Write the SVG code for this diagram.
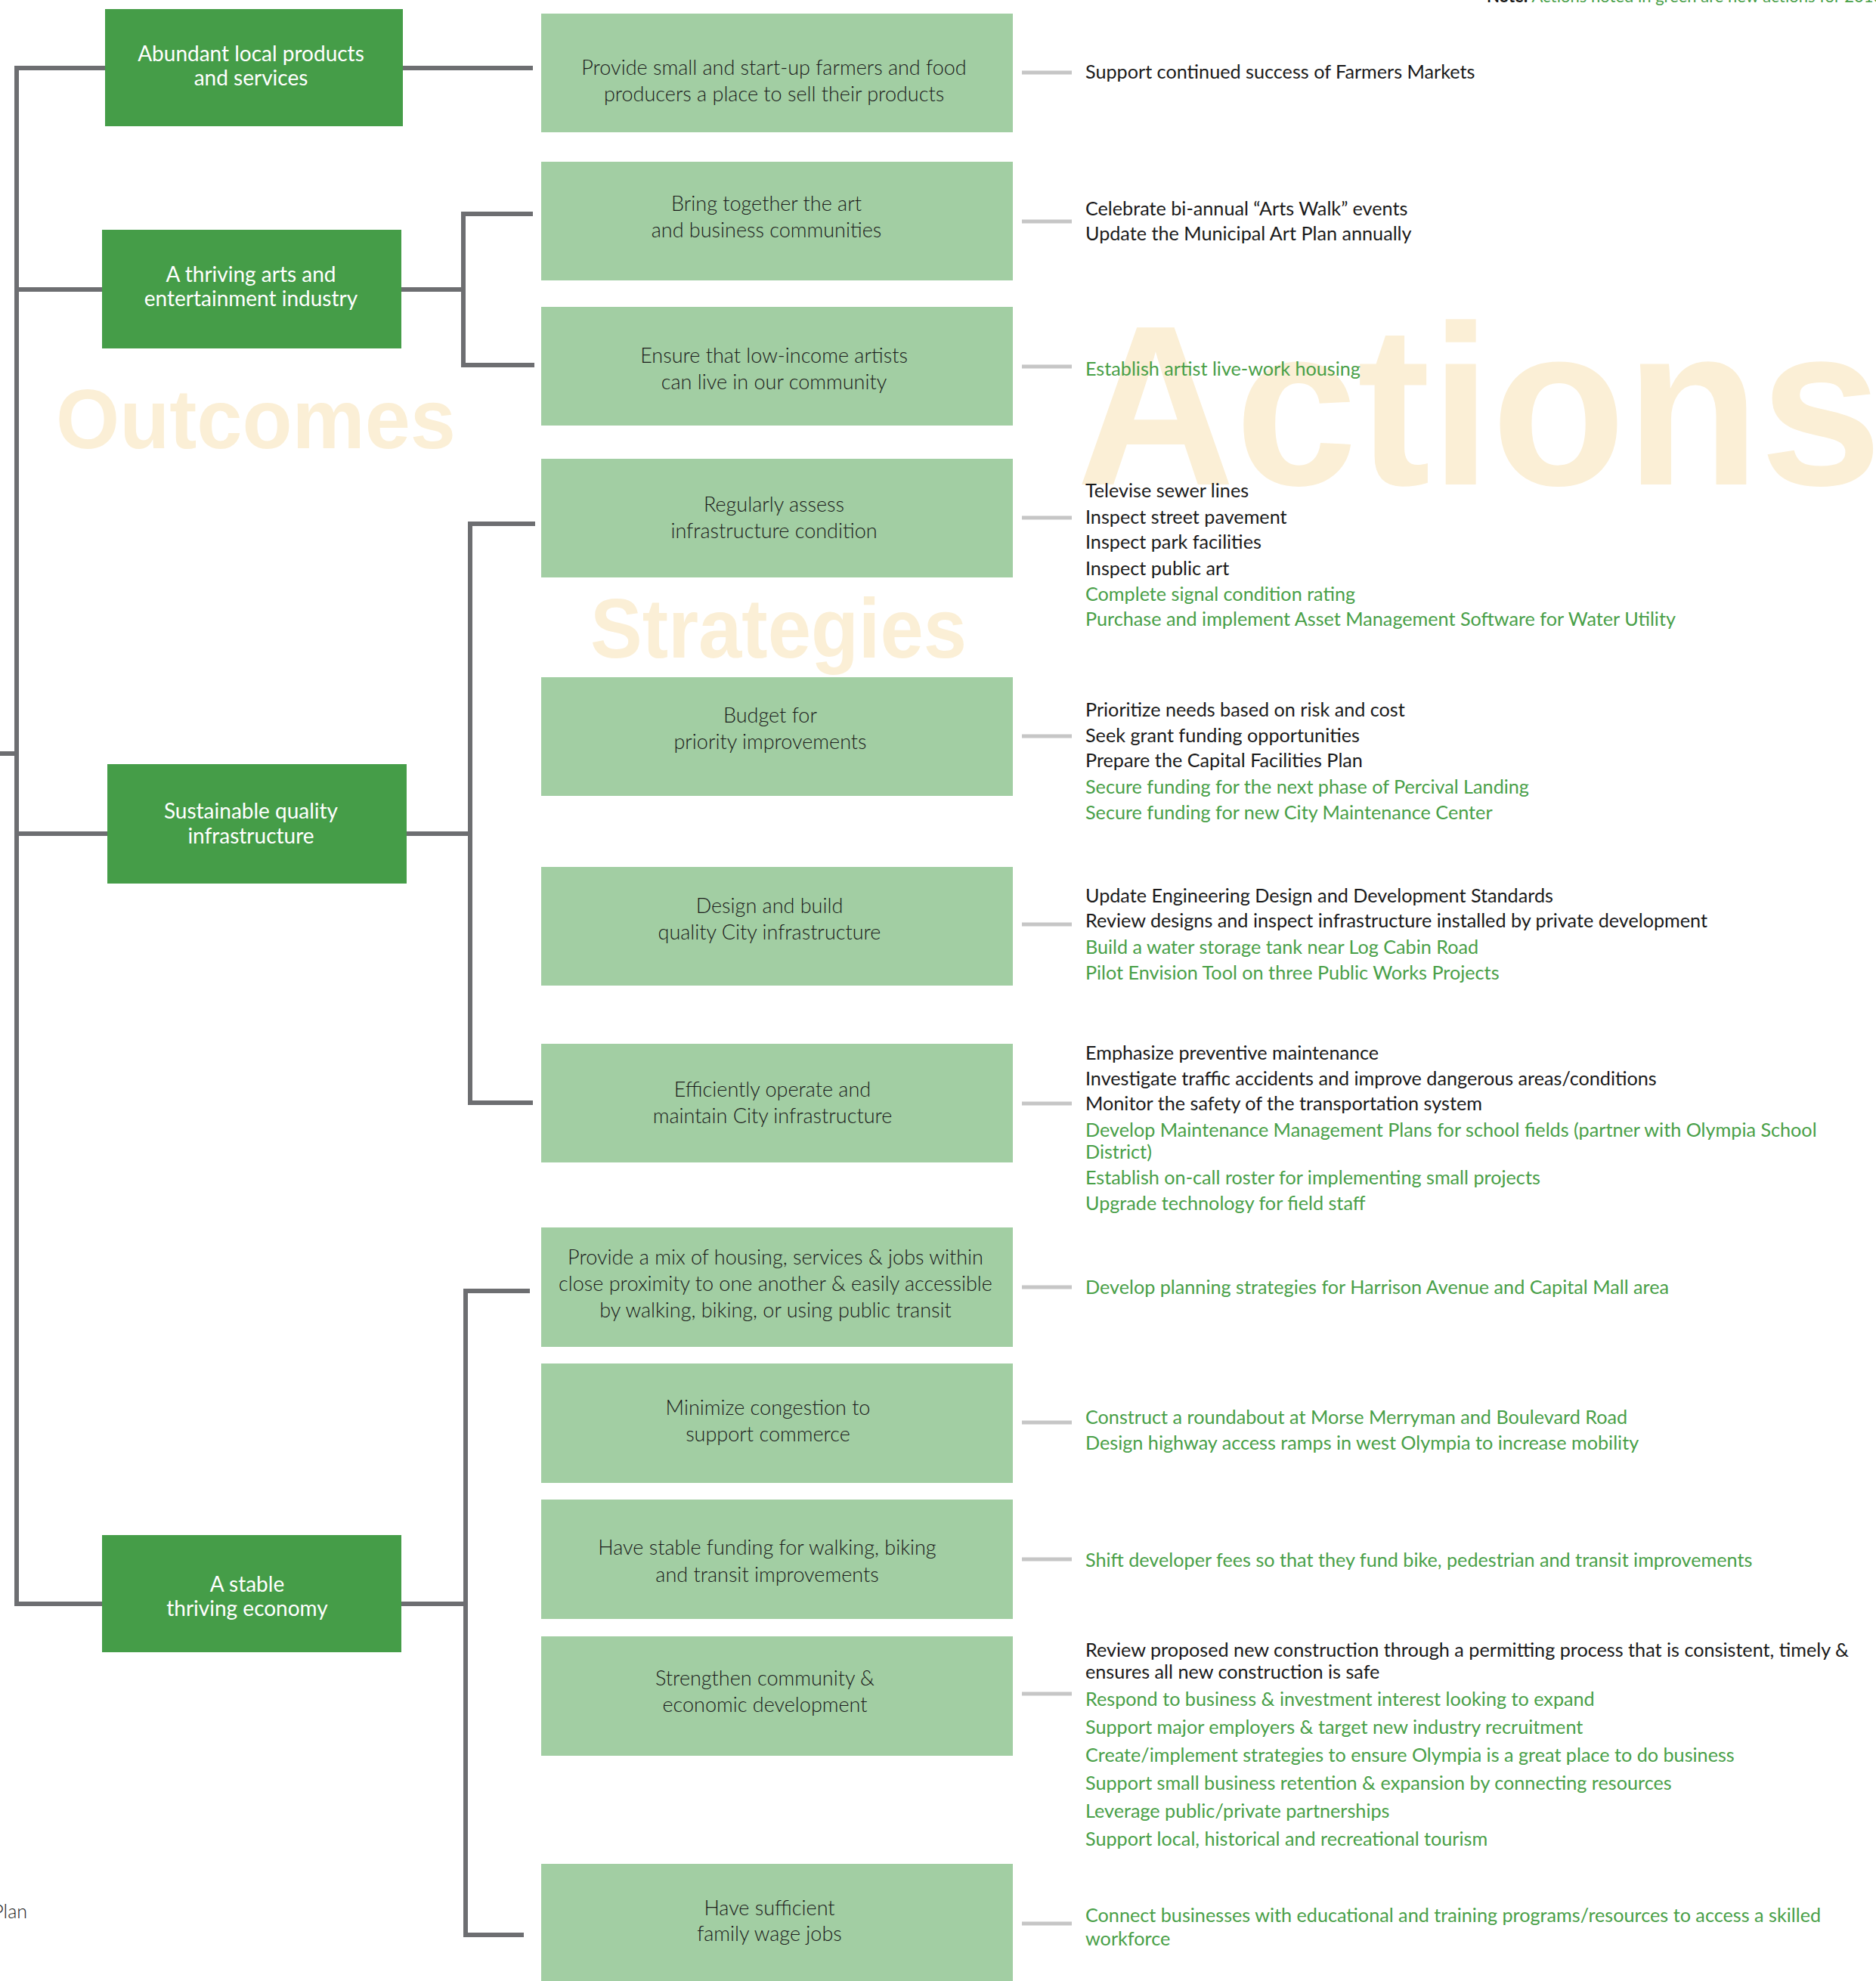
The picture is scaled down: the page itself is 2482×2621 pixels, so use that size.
<svg xmlns="http://www.w3.org/2000/svg" width="2482" height="2621" viewBox="0 0 2482 2621">
<style>
.wm{font-family:"Liberation Sans",Arial,sans-serif;font-weight:bold;fill:#fbefd6}
.oc{fill:#459d48}
.st{fill:#a2cea3}
.ot{font-family:Lato,"Open Sans",sans-serif;font-size:28px;fill:#ffffff;text-anchor:middle}
.stt{font-family:Lato,"Open Sans",sans-serif;font-weight:300;font-size:27px;fill:#1a1a1a;text-anchor:middle}
.at{font-family:Lato,"Open Sans",sans-serif;font-size:25.2px;fill:#1a1a1a}
.g{fill:#49a048}
.con{fill:none;stroke:#6d6e71;stroke-width:6;stroke-linejoin:miter;stroke-linecap:butt}
.acon{fill:none;stroke:#c6c6c6;stroke-width:5}
</style>
<g id="watermarks">
<text class="wm" x="74" y="593" font-size="112" textLength="529" lengthAdjust="spacingAndGlyphs">Outcomes</text>
<text class="wm" x="781" y="870" font-size="112" textLength="498" lengthAdjust="spacingAndGlyphs">Strategies</text>
<text class="wm" x="1424" y="641" font-size="302" textLength="1066" lengthAdjust="spacingAndGlyphs">Actions</text>
</g>
<g id="note">
<text x="1967" y="3" font-family="Lato,'Open Sans',sans-serif" font-size="22"><tspan font-weight="bold" fill="#1a1a1a">Note:</tspan><tspan fill="#49a048"> Actions noted in green are new actions for 2016</tspan></text>
</g>
<g id="connectors">
<path class="con" d="M139 90H22V2122H135"/>
<path class="con" d="M22 383H135"/>
<path class="con" d="M22 1103H142"/>
<path class="con" d="M0 997H22"/>
<path class="con" d="M533 90H705"/>
<path class="con" d="M531 383H613"/>
<path class="con" d="M705 283H613V483H707"/>
<path class="con" d="M538 1103H622"/>
<path class="con" d="M708 693H622V1459H705"/>
<path class="con" d="M531 2122H616"/>
<path class="con" d="M701 1708H616V2560H693"/>
<path class="acon" d="M1352 96H1418M1352 293H1418M1352 485H1418M1352 685H1418M1352 974H1418M1352 1223H1418M1352 1460H1418M1352 1703H1418M1352 1882H1418M1352 2063H1418M1352 2241H1418M1352 2545H1418"/>
</g>
<g id="outcome-1"><rect class="oc" x="139" y="12" width="394" height="155"/><text class="ot"><tspan x="332" y="81">Abundant local products</tspan><tspan x="332" y="113">and services</tspan></text></g>
<g id="outcome-2"><rect class="oc" x="135" y="304" width="396" height="157"/><text class="ot"><tspan x="332" y="373">A thriving arts and</tspan><tspan x="332" y="405">entertainment industry</tspan></text></g>
<g id="outcome-3"><rect class="oc" x="142" y="1011" width="396" height="158"/><text class="ot"><tspan x="332" y="1083">Sustainable quality</tspan><tspan x="332" y="1116">infrastructure</tspan></text></g>
<g id="outcome-4"><rect class="oc" x="135" y="2031" width="396" height="155"/><text class="ot"><tspan x="327" y="2106">A stable</tspan><tspan x="327" y="2138">thriving economy</tspan></text></g>

<g id="strategy-1"><rect class="st" x="716" y="18" width="624" height="157"/><text class="stt"><tspan x="1024" y="99">Provide small and start-up farmers and food</tspan><tspan x="1024" y="134">producers a place to sell their products</tspan></text></g>
<g id="strategy-2"><rect class="st" x="716" y="214" width="624" height="157"/><text class="stt"><tspan x="1014" y="279">Bring together the art</tspan><tspan x="1014" y="314">and business communities</tspan></text></g>
<g id="strategy-3"><rect class="st" x="716" y="406" width="624" height="157"/><text class="stt"><tspan x="1024" y="480">Ensure that low-income artists</tspan><tspan x="1024" y="515">can live in our community</tspan></text></g>
<g id="strategy-4"><rect class="st" x="716" y="607" width="624" height="157"/><text class="stt"><tspan x="1024" y="677">Regularly assess</tspan><tspan x="1024" y="712">infrastructure condition</tspan></text></g>
<g id="strategy-5"><rect class="st" x="716" y="896" width="624" height="157"/><text class="stt"><tspan x="1019" y="956">Budget for</tspan><tspan x="1019" y="991">priority improvements</tspan></text></g>
<g id="strategy-6"><rect class="st" x="716" y="1147" width="624" height="157"/><text class="stt"><tspan x="1018" y="1208">Design and build</tspan><tspan x="1018" y="1243">quality City infrastructure</tspan></text></g>
<g id="strategy-7"><rect class="st" x="716" y="1381" width="624" height="157"/><text class="stt"><tspan x="1022" y="1451">Efficiently operate and</tspan><tspan x="1022" y="1486">maintain City infrastructure</tspan></text></g>
<g id="strategy-8"><rect class="st" x="716" y="1624" width="624" height="158"/><text class="stt"><tspan x="1026" y="1673">Provide a mix of housing, services &amp; jobs within</tspan><tspan x="1026" y="1708">close proximity to one another &amp; easily accessible</tspan><tspan x="1026" y="1743">by walking, biking, or using public transit</tspan></text></g>
<g id="strategy-9"><rect class="st" x="716" y="1804" width="624" height="158"/><text class="stt"><tspan x="1016" y="1872">Minimize congestion to</tspan><tspan x="1016" y="1907">support commerce</tspan></text></g>
<g id="strategy-10"><rect class="st" x="716" y="1984" width="624" height="158"/><text class="stt"><tspan x="1015" y="2057">Have stable funding for walking, biking</tspan><tspan x="1015" y="2093">and transit improvements</tspan></text></g>
<g id="strategy-11"><rect class="st" x="716" y="2165" width="624" height="158"/><text class="stt"><tspan x="1012" y="2230">Strengthen community &amp;</tspan><tspan x="1012" y="2265">economic development</tspan></text></g>
<g id="strategy-12"><rect class="st" x="716" y="2466" width="624" height="160"/><text class="stt"><tspan x="1018" y="2534">Have sufficient</tspan><tspan x="1018" y="2568">family wage jobs</tspan></text></g>

<g id="actions-1"><text class="at"><tspan x="1436" y="104">Support continued success of Farmers Markets</tspan></text></g>
<g id="actions-2"><text class="at"><tspan x="1436" y="285">Celebrate bi-annual “Arts Walk” events</tspan><tspan x="1436" y="318">Update the Municipal Art Plan annually</tspan></text></g>
<g id="actions-3"><text class="at g"><tspan x="1436" y="497">Establish artist live-work housing</tspan></text></g>
<g id="actions-4"><text class="at"><tspan x="1436" y="658">Televise sewer lines</tspan><tspan x="1436" y="693">Inspect street pavement</tspan><tspan x="1436" y="726">Inspect park facilities</tspan><tspan x="1436" y="761">Inspect public art</tspan><tspan class="g" x="1436" y="795">Complete signal condition rating</tspan><tspan class="g" x="1436" y="828">Purchase and implement Asset Management Software for Water Utility</tspan></text></g>
<g id="actions-5"><text class="at"><tspan x="1436" y="948">Prioritize needs based on risk and cost</tspan><tspan x="1436" y="982">Seek grant funding opportunities</tspan><tspan x="1436" y="1015">Prepare the Capital Facilities Plan</tspan><tspan class="g" x="1436" y="1050">Secure funding for the next phase of Percival Landing</tspan><tspan class="g" x="1436" y="1084">Secure funding for new City Maintenance Center</tspan></text></g>
<g id="actions-6"><text class="at"><tspan x="1436" y="1194">Update Engineering Design and Development Standards</tspan><tspan x="1436" y="1227">Review designs and inspect infrastructure installed by private development</tspan><tspan class="g" x="1436" y="1262">Build a water storage tank near Log Cabin Road</tspan><tspan class="g" x="1436" y="1296">Pilot Envision Tool on three Public Works Projects</tspan></text></g>
<g id="actions-7"><text class="at"><tspan x="1436" y="1402">Emphasize preventive maintenance</tspan><tspan x="1436" y="1436">Investigate traffic accidents and improve dangerous areas/conditions</tspan><tspan x="1436" y="1469">Monitor the safety of the transportation system</tspan><tspan class="g" x="1436" y="1504">Develop Maintenance Management Plans for school fields (partner with Olympia School</tspan><tspan class="g" x="1436" y="1533">District)</tspan><tspan class="g" x="1436" y="1567">Establish on-call roster for implementing small projects</tspan><tspan class="g" x="1436" y="1601">Upgrade technology for field staff</tspan></text></g>
<g id="actions-8"><text class="at g"><tspan x="1436" y="1712">Develop planning strategies for Harrison Avenue and Capital Mall area</tspan></text></g>
<g id="actions-9"><text class="at g"><tspan x="1436" y="1884">Construct a roundabout at Morse Merryman and Boulevard Road</tspan><tspan x="1436" y="1918">Design highway access ramps in west Olympia to increase mobility</tspan></text></g>
<g id="actions-10"><text class="at g"><tspan x="1436" y="2073">Shift developer fees so that they fund bike, pedestrian and transit improvements</tspan></text></g>
<g id="actions-11"><text class="at"><tspan x="1436" y="2192">Review proposed new construction through a permitting process that is consistent, timely &amp;</tspan><tspan x="1436" y="2221">ensures all new construction is safe</tspan><tspan class="g" x="1436" y="2257">Respond to business &amp; investment interest looking to expand</tspan><tspan class="g" x="1436" y="2294">Support major employers &amp; target new industry recruitment</tspan><tspan class="g" x="1436" y="2331">Create/implement strategies to ensure Olympia is a great place to do business</tspan><tspan class="g" x="1436" y="2368">Support small business retention &amp; expansion by connecting resources</tspan><tspan class="g" x="1436" y="2405">Leverage public/private partnerships</tspan><tspan class="g" x="1436" y="2442">Support local, historical and recreational tourism</tspan></text></g>
<g id="actions-12"><text class="at g"><tspan x="1436" y="2543">Connect businesses with educational and training programs/resources to access a skilled</tspan><tspan x="1436" y="2574">workforce</tspan></text></g>
<g id="footer"><text x="36" y="2538" font-family="Lato,'Open Sans',sans-serif" font-weight="300" font-size="25" fill="#1a1a1a" text-anchor="end">Plan</text></g>
</svg>
